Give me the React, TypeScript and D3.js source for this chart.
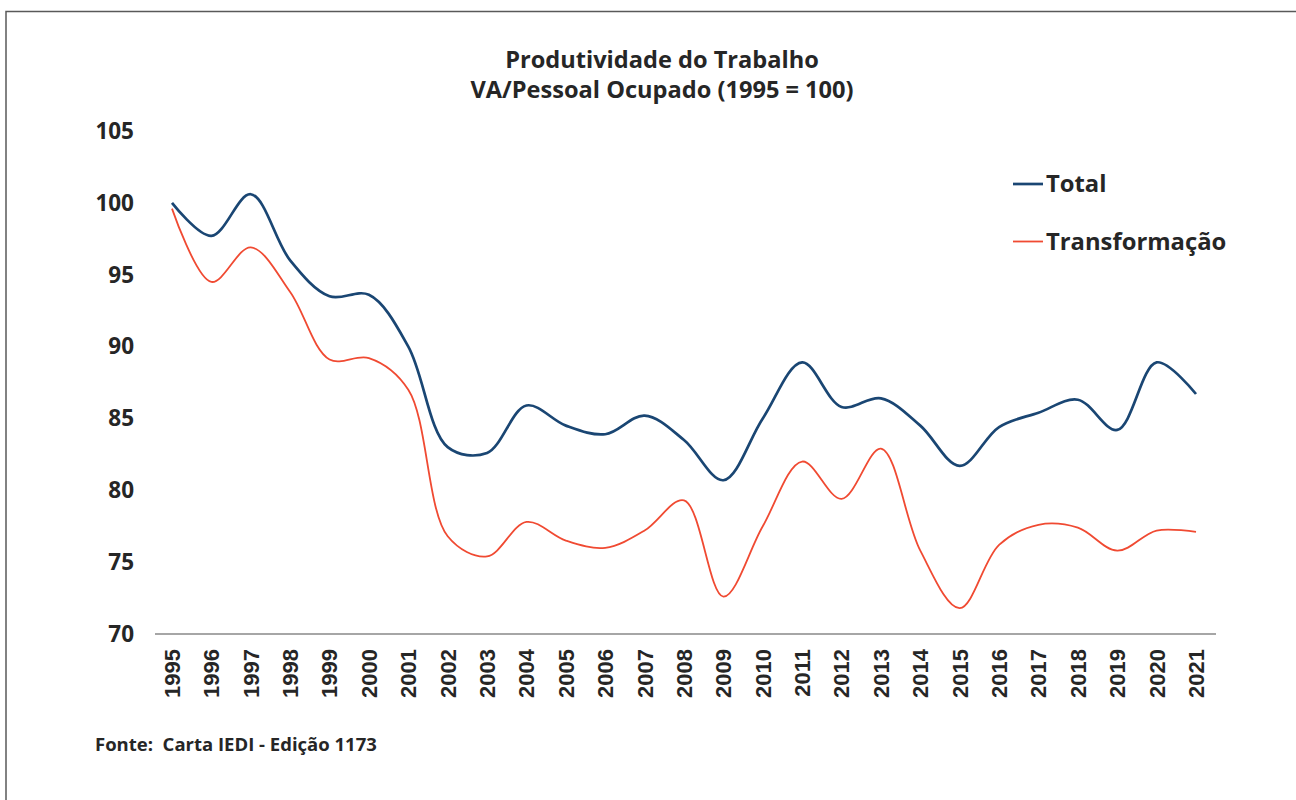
import * as d3 from "d3";

const years = d3.range(1995, 2022).map(String);

const total = [
  100.0, 97.7, 100.6, 96.0, 93.5, 93.6, 90.0, 83.0, 82.6, 85.9, 84.5, 83.9,
  85.2, 83.5, 80.7, 85.0, 88.9, 85.8, 86.4, 84.5, 81.7, 84.4, 85.4, 86.3,
  84.2, 88.9, 86.7,
];

const transformacao = [
  99.6, 94.5, 96.9, 93.8, 89.1, 89.2, 87.0, 76.8, 75.4, 77.8, 76.5, 76.0,
  77.2, 79.3, 72.6, 77.5, 82.0, 79.4, 82.9, 75.8, 71.8, 76.2, 77.6, 77.4,
  75.8, 77.2, 77.1,
];

const yTicks = [70, 75, 80, 85, 90, 95, 100, 105];

const series = [
  { name: "Total", values: total, color: "#1a4673", width: 2.7 },
  { name: "Transformação", values: transformacao, color: "#f04a32", width: 1.8 },
];

const W = 1296;
const H = 800;
const textColor = "#262626";
const font = "'Open Sans', 'Noto Sans', sans-serif";

export default function App() {
  const x = d3.scalePoint<string>().domain(years).range([172, 1196]);
  const y = d3.scaleLinear().domain([70, 105]).range([634, 131]);

  const line = d3
    .line<number>()
    .x((_, i) => x(years[i])!)
    .y((d) => y(d))
    .curve(d3.curveCatmullRom.alpha(0.5));

  return (
    <svg
      width={W}
      height={H}
      style={{ position: "absolute", left: 0, top: 0, background: "#fff" }}
    >
      <rect x={6} y={11.5} width={W + 20} height={H + 20} fill="#fff" stroke="#595959" strokeWidth={1.5} />

      <g fontFamily={font} fontWeight={700} fill={textColor} textAnchor="middle">
        <text x={662} y={68} fontSize={23.6}>
          Produtividade do Trabalho
        </text>
        <text x={662} y={98} fontSize={23.6}>
          VA/Pessoal Ocupado (1995 = 100)
        </text>
      </g>

      {yTicks.map((t) => (
        <text
          key={t}
          x={134}
          y={y(t)}
          dy="0.35em"
          textAnchor="end"
          fontFamily={font}
          fontWeight={700}
          fontSize={22.5}
          fill={textColor}
        >
          {t}
        </text>
      ))}

      <line x1={155} x2={1216} y1={y(70)} y2={y(70)} stroke="#a6a6a6" strokeWidth={2.2} />

      {years.map((yr) => (
        <text
          key={yr}
          transform={`translate(${x(yr)},${649}) rotate(-90)`}
          dy="0.36em"
          textAnchor="end"
          fontFamily="'Liberation Sans', Arial, sans-serif"
          fontWeight={700}
          fontSize={22}
          fill={textColor}
        >
          {yr}
        </text>
      ))}

      {series.map((s) => (
        <path
          key={s.name}
          d={line(s.values) ?? ""}
          fill="none"
          stroke={s.color}
          strokeWidth={s.width}
          strokeLinejoin="round"
        />
      ))}

      {series.map((s, i) => (
        <g key={s.name} transform={`translate(1013,${184 + i * 57.5})`}>
          <line x1={0} x2={30} y1={0} y2={0} stroke={s.color} strokeWidth={s.width} />
          <text
            x={33}
            y={0}
            dy="0.35em"
            fontFamily={font}
            fontWeight={700}
            fontSize={23.8}
            fill={textColor}
          >
            {s.name}
          </text>
        </g>
      ))}

      <text
        x={95}
        y={751}
        fontFamily={font}
        fontWeight={700}
        fontSize={18.5}
        fill={textColor}
        style={{ whiteSpace: "pre" }}
      >
        {"Fonte:  Carta IEDI - Edição 1173"}
      </text>
    </svg>
  );
}
